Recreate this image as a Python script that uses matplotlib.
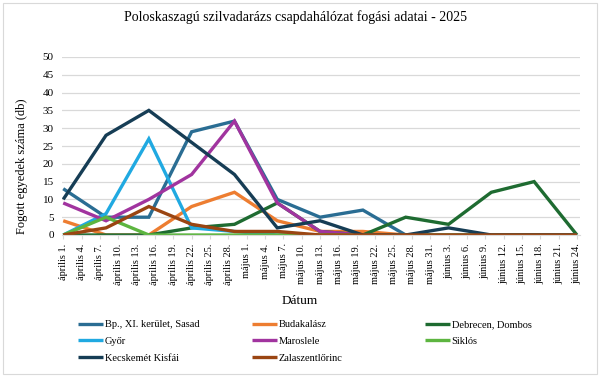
import numpy as np
import matplotlib
matplotlib.use("Agg")
import matplotlib.pyplot as plt
from matplotlib.patches import Rectangle

plt.rcParams['font.family'] = ['Liberation Serif', 'DejaVu Serif']

# heti fogási adatok (április 1. - június 24.)
datumok = np.arange(np.datetime64('2025-04-01'), np.datetime64('2025-06-25'), 7)

bp_sasad = [13, 5, 5, 29, 32, 10, 5, 7, 0, 0, 0, 0, 0]
budakalasz = [4, 0, 0, 8, 12, 4, 1, 1, 0, 0, 0, 0, 0]
debrecen = [0, 0, 0, 2, 3, 9, 1, 0, 5, 3, 12, 15, 0]
gyor = [0, 6, 27, 2, 1, 0, 0, 0, 0, 0, 0, 0, 0]
maroslele = [9, 4, 10, 17, 32, 9, 1, 0, 0, 0, 0, 0, 0]
siklos = [0, 5, 0, 0, 0, 0, 0, 0, 0, 0, 0, 0, 0]
kecskemet = [10, 28, 35, 26, 17, 2, 4, 0, 0, 2, 0, 0, 0]
zala = [0, 2, 8, 3, 1, 1, 0, 0, 0, 0, 0, 0, 0]

sorozatok = [
    ("Bp., XI. kerület, Sasad", bp_sasad, "#2A6D93"),
    ("Budakalász", budakalasz, "#ED7D31"),
    ("Debrecen, Dombos", debrecen, "#1E6B31"),
    ("Győr", gyor, "#20A9E1"),
    ("Maroslele", maroslele, "#A1349F"),
    ("Siklós", siklos, "#5DB540"),
    ("Kecskemét Kisfái", kecskemet, "#163D55"),
    ("Zalaszentlőrinc", zala, "#9A4512"),
]

honapok = {4: "április", 5: "május", 6: "június"}
tick_datumok = np.arange(np.datetime64('2025-04-01'), np.datetime64('2025-06-25'), 3)

start = np.datetime64('2025-04-01')
x = (datumok - start).astype(int)
tx = (tick_datumok - start).astype(int)
tlabels = []
for d in tick_datumok.astype(object):
    tlabels.append(f"{honapok[d.month]} {d.day}.")

fig = plt.figure(figsize=(6, 3.77), dpi=100)
ax = fig.add_axes([62/600, 1-235/377, (580-62)/600, (235-57)/377])

handles = {}
for nev, ertekek, szin in sorozatok:
    h, = ax.plot(x, ertekek, color=szin, linewidth=2.4, solid_joinstyle='miter',
                 solid_capstyle='butt', label=nev)
    handles[nev] = h

ax.set_xlim(-0.2, 84.5)
ax.set_ylim(0, 50)
ax.set_yticks(range(0, 51, 5))
ax.set_xticks(tx)
ax.set_xticklabels(tlabels, rotation=90, fontsize=7.5)
ax.tick_params(axis='x', length=3, color='#D9D9D9', pad=3)
ax.tick_params(axis='y', length=0, labelsize=8, pad=6)
ax.grid(axis='y', color='#D9D9D9', linewidth=0.9)
ax.set_axisbelow(True)
for s in ['top', 'right', 'left']:
    ax.spines[s].set_visible(False)
ax.spines['bottom'].set_color('#D9D9D9')

fig.text(0.493, 0.955, "Poloskaszagú szilvadarázs csapdahálózat fogási adatai - 2025",
         ha='center', va='center', fontsize=10)
fig.text(0.037, 0.56, "Fogott egyedek száma (db)", rotation=90, ha='center', va='center', fontsize=9)
fig.text(0.5, 1-301/377, "Dátum", ha='center', va='center', fontsize=9.5)

# jelmagyarázat három oszlopban
oszlopok = [
    ["Bp., XI. kerület, Sasad", "Győr", "Kecskemét Kisfái"],
    ["Budakalász", "Maroslele", "Zalaszentlőrinc"],
    ["Debrecen, Dombos", "Siklós"],
]
oszlop_x = [78, 252, 425]
for ox, nevek in zip(oszlop_x, oszlopok):
    fig.legend([handles[n] for n in nevek], nevek, loc='upper left',
               bbox_to_anchor=(ox/600, 1-320/377), frameon=False, fontsize=7.5,
               handlelength=2.4, handletextpad=0.15, labelspacing=0.72,
               borderaxespad=0, borderpad=0)

fig.patches.append(Rectangle((3/600, 3/377), 594/600, 371/377, transform=fig.transFigure,
                             fill=False, edgecolor='#D9D9D9', linewidth=0.8))

fig.savefig('out.png', dpi=100)
